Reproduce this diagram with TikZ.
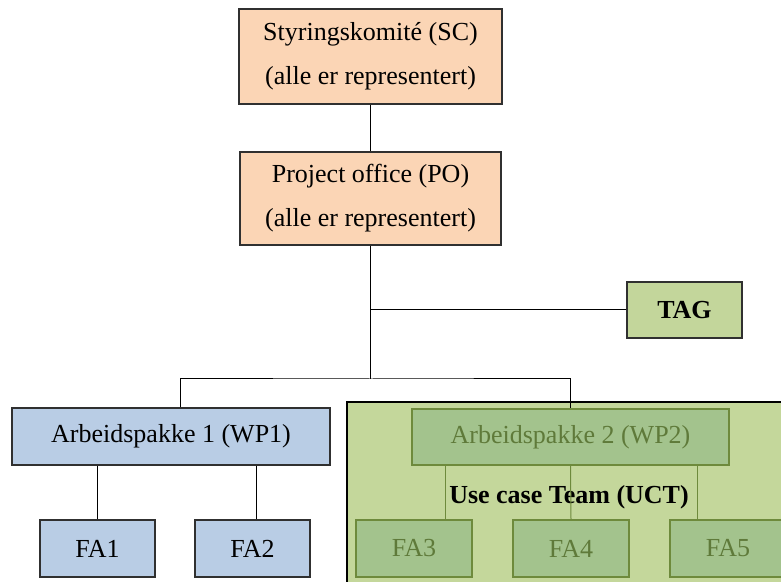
\documentclass[tikz,border=0pt]{standalone}
\usepackage{fontspec}
\setmainfont{Liberation Serif}
\usetikzlibrary{positioning}
\definecolor{peach}{HTML}{FBD5B5}
\definecolor{wpblue}{HTML}{B9CDE5}
\definecolor{taggreen}{HTML}{C3D69B}
\definecolor{uctgreen}{HTML}{C4D79B}
\definecolor{wpgreen}{HTML}{A3C38D}
\definecolor{olive}{HTML}{6E8A3C}
\definecolor{olivetext}{HTML}{5F7A3A}
\definecolor{boxline}{HTML}{303030}

\begin{document}
\begin{tikzpicture}[x=0.5pt,y=-0.5pt,line width=0.5pt,
                    main node/.style={rectangle,draw=boxline,line width=0.55pt,inner sep=0pt,
                                      align=center,font=\fontsize{13}{22}\selectfont},
                    fa node/.style={main node,minimum width=57.5pt,minimum height=28.5pt}]
  \useasboundingbox (0,0) rectangle (781,582);
  % use case team area
  \fill[uctgreen] (347,402) rectangle (800,600);
  \draw[line width=0.8pt] (347,600) -- (347,402) -- (800,402);

  \node[main node,fill=peach,minimum width=131.5pt,minimum height=47.5pt] (sc) at (370.5,56.5)
       {Styringskomit\'e (SC)\\(alle er representert)};
  \node[main node,fill=peach,minimum width=130.5pt,minimum height=46.5pt] (po) at (370.5,198.5)
       {Project office (PO)\\(alle er representert)};
  \node[main node,fill=taggreen,minimum width=57.5pt,minimum height=28pt,
        font=\fontsize{13}{22}\selectfont\bfseries] (tag) at (684.5,310) {TAG};

  \node[main node,fill=wpblue,minimum width=159pt,minimum height=28.5pt] (wp1) at (171,436.5)
       {Arbeidspakke 1 (WP1)};
  \node[fa node,fill=wpblue] (fa1) at (97.5,548.5) {FA1};
  \node[fa node,fill=wpblue] (fa2) at (252.5,548.5) {FA2};

  \node[main node,fill=wpgreen,draw=olive,text=olivetext,minimum width=158.5pt,
        minimum height=28pt] (wp2) at (570.5,437) {Arbeidspakke 2 (WP2)};
  \node[fa node,fill=wpgreen,draw=olive,text=olivetext,minimum width=58pt] (fa3) at (414,548.5) {FA3};
  \node[fa node,fill=wpgreen,draw=olive,text=olivetext,minimum width=58pt] (fa4) at (571,548.5) {FA4};
  \node[fa node,fill=wpgreen,draw=olive,text=olivetext,minimum width=58pt] (fa5) at (728,548.5) {FA5};
  \node[font=\fontsize{13}{22}\selectfont\bfseries,inner sep=0pt] (uct) at (569,497)
       {Use case Team (UCT)};

  \coordinate (split) at (371,379);
  \coordinate (wp1top) at (180,379);

  \draw (sc) -- (po);
  \draw (po.south) -- (po.south |- split);
  \draw (tag.west) -- (tag.west -| split);
  \draw (wp1.north -| wp1top) -- (wp1top) -- (split) -| (wp2.north);
  \draw (fa1.north |- wp1.south) -- (fa1.north);
  \draw ([xshift=2pt]fa2.north |- wp1.south) -- ([xshift=2pt]fa2.north);
  \draw[olive] ([xshift=17pt]wp2.south west) -- ([xshift=17pt]wp2.south west |- fa3.north);
  \draw[olive] (wp2.south) -- (fa4.north);
  \draw[olive] ([xshift=-16pt]wp2.south east) -- ([xshift=-16pt]wp2.south east |- fa5.north);
\end{tikzpicture}
\end{document}
